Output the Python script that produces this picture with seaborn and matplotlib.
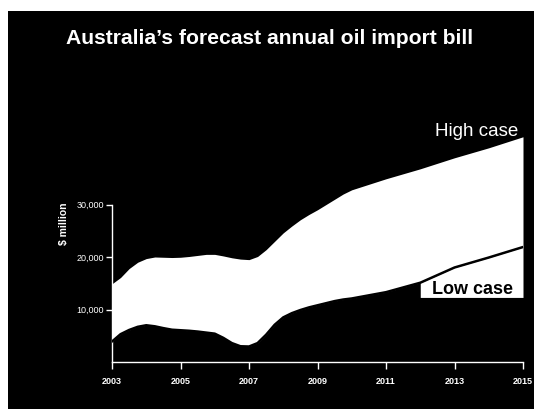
import matplotlib
matplotlib.use("Agg")
import matplotlib.pyplot as plt
from matplotlib.patches import Rectangle
import pandas as pd
import seaborn as sns

# Forecast annual oil import bill, $ million
years = [2003, 2003.25, 2003.5, 2003.75, 2004, 2004.25, 2004.5, 2004.75,
         2005, 2005.25, 2005.5, 2005.75, 2006, 2006.25, 2006.5, 2006.75,
         2007, 2007.25, 2007.5, 2007.75, 2008, 2008.25, 2008.5, 2008.75,
         2009, 2009.25, 2009.5, 2009.75, 2010, 2011, 2012, 2013, 2014, 2015]
high_case = [14900, 16100, 17800, 19000, 19700, 20000, 19950, 19900,
             19950, 20100, 20300, 20500, 20500, 20200, 19850, 19600,
             19500, 20100, 21400, 23000, 24600, 25900, 27100, 28100,
             29000, 30000, 31000, 32000, 32800, 34900, 36800, 38900, 40800, 42900]
low_case = [3900, 5300, 6100, 6700, 7000, 6800, 6450, 6150,
            6050, 5950, 5800, 5600, 5400, 4600, 3600, 3000,
            2950, 3600, 5200, 7100, 8500, 9300, 9900, 10400,
            10800, 11200, 11600, 11900, 12100, 13300, 15100, 18000, 19900, 21900]

x_ticks = [2003, 2005, 2007, 2009, 2011, 2013, 2015]
y_ticks = [10000, 20000, 30000]
y_tick_labels = ["10,000", "20,000", "30,000"]

title = "Australia\u2019s forecast annual oil import bill"

df = pd.DataFrame({"year": years, "high": high_case, "low": low_case})

sns.set_theme(style="dark")
plt.rcParams["font.family"] = ["Liberation Sans", "DejaVu Sans"]

W, H = 534, 409
fig = plt.figure(figsize=(W / 100, H / 100), dpi=100, facecolor="white")
fig.patches.append(Rectangle((8 / W, 0), 1 - 8 / W, 1 - 11 / H,
                             transform=fig.transFigure, facecolor="black",
                             edgecolor="none", zorder=-5))

px_per_10k = 52.5
ax_left, ax_right, ax_bottom = 112, 523, 362
ymax = 45000
ax_h = ymax / 10000 * px_per_10k
ax = fig.add_axes([ax_left / W, (H - ax_bottom) / H, (ax_right - ax_left) / W, ax_h / H])
ax.set_zorder(2)
ax.set_facecolor("none")
ax.set_xlim(2003, 2015)
ax.set_ylim(0, ymax)

# range between the two forecasts
ax.fill_between(df["year"], df["low"], df["high"], color="white", lw=0, zorder=2)

# backing panel behind the low-case label
tail = df[df["year"] >= 2012]
ax.fill_between(tail["year"], 12300, tail["low"], color="white", lw=0, zorder=2)

sns.lineplot(data=df, x="year", y="low", ax=ax, color="black", lw=1.8, zorder=3)

ax.grid(False)
ax.set_xlabel("")
ax.set_ylabel("")
for side in ("top", "right"):
    ax.spines[side].set_visible(False)
for side in ("left", "bottom"):
    ax.spines[side].set_visible(True)
    ax.spines[side].set_color("white")
    ax.spines[side].set_linewidth(1.0)
ax.spines["left"].set_bounds(0, 30000)

ax.set_xticks(x_ticks)
ax.set_xticklabels([str(y) for y in x_ticks], fontsize=6.5, fontweight="bold", color="white")
ax.set_yticks(y_ticks)
ax.set_yticklabels(y_tick_labels, fontsize=6.5, color="white")
ax.tick_params(axis="x", direction="out", length=5, width=1, color="white", pad=6, bottom=True)
ax.tick_params(axis="y", direction="out", length=4, width=1, color="white", pad=2, left=True)

def fx(x):
    return x / W

def fy(y):
    return 1 - y / H

fig.text(fx(66), fy(43.5), title, fontsize=15.2, fontweight="bold", color="white",
         ha="left", va="baseline")
fig.text(fx(63.5), fy(224), "$ million", fontsize=7.5, fontweight="bold", color="white",
         rotation=90, ha="center", va="center")
fig.text(fx(518), fy(136), "High case", fontsize=13.5, color="white",
         ha="right", va="baseline")
fig.text(fx(513), fy(294), "Low case", fontsize=13, fontweight="bold", color="black",
         ha="right", va="baseline", zorder=5)

fig.savefig("out.png", dpi=100, facecolor=fig.get_facecolor())
